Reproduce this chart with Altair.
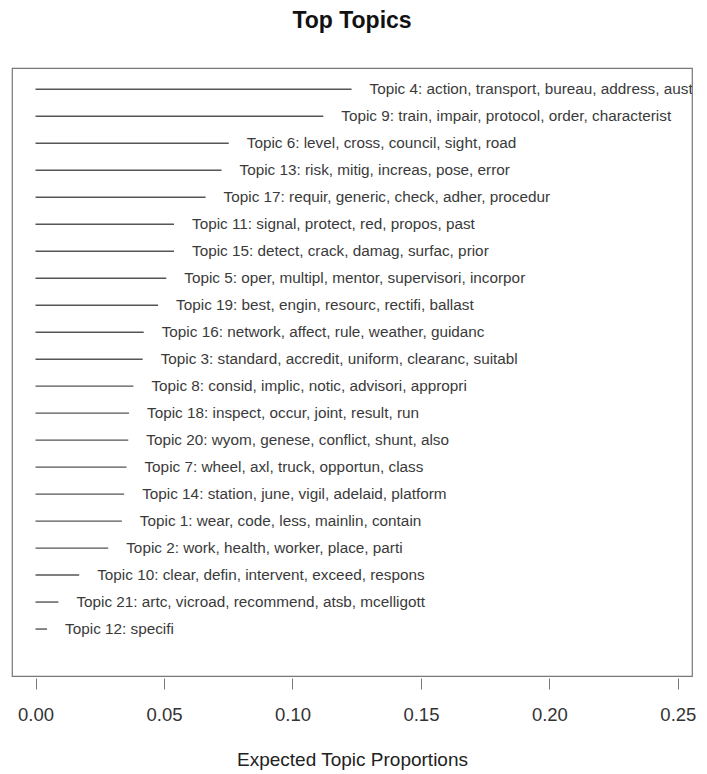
import altair as alt
import pandas as pd

labels = [
    "Topic 4: action, transport, bureau, address, aust",
    "Topic 9: train, impair, protocol, order, characterist",
    "Topic 6: level, cross, council, sight, road",
    "Topic 13: risk, mitig, increas, pose, error",
    "Topic 17: requir, generic, check, adher, procedur",
    "Topic 11: signal, protect, red, propos, past",
    "Topic 15: detect, crack, damag, surfac, prior",
    "Topic 5: oper, multipl, mentor, supervisori, incorpor",
    "Topic 19: best, engin, resourc, rectifi, ballast",
    "Topic 16: network, affect, rule, weather, guidanc",
    "Topic 3: standard, accredit, uniform, clearanc, suitabl",
    "Topic 8: consid, implic, notic, advisori, appropri",
    "Topic 18: inspect, occur, joint, result, run",
    "Topic 20: wyom, genese, conflict, shunt, also",
    "Topic 7: wheel, axl, truck, opportun, class",
    "Topic 14: station, june, vigil, adelaid, platform",
    "Topic 1: wear, code, less, mainlin, contain",
    "Topic 2: work, health, worker, place, parti",
    "Topic 10: clear, defin, intervent, exceed, respons",
    "Topic 21: artc, vicroad, recommend, atsb, mcelligott",
    "Topic 12: specifi",
]
proportions = [
    0.1230, 0.1120, 0.0752, 0.0724, 0.0662, 0.0539, 0.0539,
    0.0509, 0.0477, 0.0421, 0.0417, 0.0381, 0.0364, 0.0361,
    0.0354, 0.0345, 0.0336, 0.0283, 0.0170, 0.0089, 0.0045,
]
rank = list(range(len(labels), 0, -1))

df = pd.DataFrame({"label": labels, "prop": proportions, "rank": rank, "zero": 0.0})

xscale = alt.Scale(domain=[-0.00915, 0.2555], nice=False, zero=False)
yscale = alt.Scale(domain=[-0.74, 21.79], nice=False, zero=False)

base = alt.Chart(df)

lines = base.mark_rule(color="#555555", strokeWidth=1.4).encode(
    x=alt.X("zero:Q", scale=xscale,
            axis=alt.Axis(title="Expected Topic Proportions",
                          values=[0, 0.05, 0.1, 0.15, 0.2, 0.25],
                          format=".2f", grid=False, domain=False,
                          tickSize=11, tickColor="#777777", offset=2,
                          labelFontSize=18.5, labelColor="#333333",
                          labelFont="Liberation Sans", labelPadding=16,
                          titleFont="Liberation Sans", titleFontSize=19,
                          titleFontWeight="normal", titleColor="#222222",
                          titlePadding=27)),
    x2="prop:Q",
    y=alt.Y("rank:Q", scale=yscale, axis=None),
)

texts = base.mark_text(align="left", baseline="middle", dx=18, fontSize=15.3,
                       font="Liberation Sans", color="#3a3a3a", clip=True).encode(
    x=alt.X("prop:Q", scale=xscale),
    y=alt.Y("rank:Q", scale=yscale),
    text="label:N",
)

chart = (lines + texts).properties(
    width=680, height=608,
    title=alt.TitleParams("Top Topics", fontSize=23, fontWeight="bold",
                          font="Liberation Sans", color="#111111",
                          anchor="middle", offset=35),
    autosize=alt.AutoSizeParams(type="none"),
    padding={"left": 4, "top": 60, "right": 7, "bottom": 96},
).configure_view(stroke="#777777", strokeWidth=1.2)

chart.save("out.html", embed_options={"renderer": "svg", "actions": False})
